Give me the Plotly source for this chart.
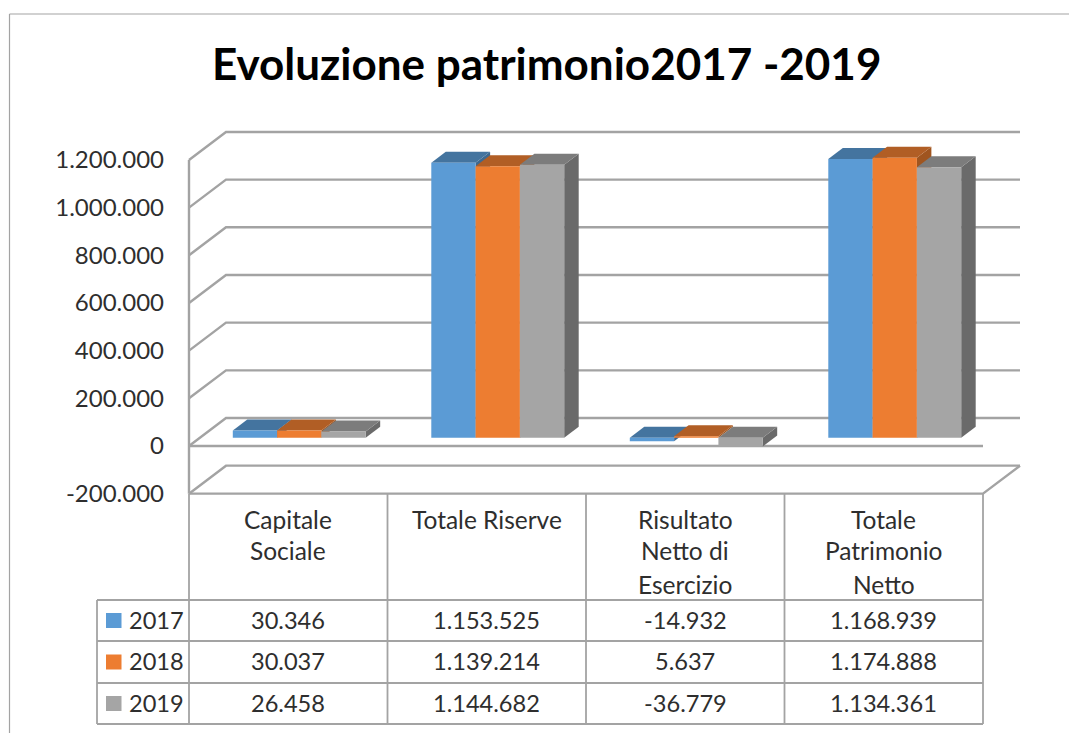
import plotly.graph_objects as go

# ---- data ----
TITLE = "Evoluzione patrimonio2017 -2019"
categories = ["Capitale<br>Sociale", "Totale Riserve", "Risultato<br>Netto di<br>Esercizio", "Totale<br>Patrimonio<br>Netto"]
years = ["2017", "2018", "2019"]
values_2017 = [30346, 1153525, -14932, 1168939]
values_2018 = [30037, 1139214, 5637, 1174888]
values_2019 = [26458, 1144682, -36779, 1134361]
labels_2017 = ["30.346", "1.153.525", "-14.932", "1.168.939"]
labels_2018 = ["30.037", "1.139.214", "5.637", "1.174.888"]
labels_2019 = ["26.458", "1.144.682", "-36.779", "1.134.361"]
tick_vals = [-200000, 0, 200000, 400000, 600000, 800000, 1000000, 1200000]
tick_text = ["-200.000", "0", "200.000", "400.000", "600.000", "800.000", "1.000.000", "1.200.000"]

# ---- styles ----
front_col = ["#5B9BD5", "#ED7D31", "#A5A5A5"]
top_col = ["#44749F", "#B15E25", "#7C7C7C"]
side_col = ["#3E6990", "#A0551F", "#6A6A6A"]
GRID = "#A3A3A3"
TXT = "#2E2E2E"
FONT = "Lato"

# ---- geometry (pixels of the page) ----
W, H = 1069, 733
X0, CAT_W = 189.0, 198.5         # front-left corner, category width
Y_ZERO, PX_PER_UNIT = 446.0, 47.67 / 200000
WALL_DX, WALL_DY = 37.0, 28.0    # depth of the whole floor
BAR_DX, BAR_DY = 14.5, 11.0      # depth of one bar
BAR_OFF_X, BAR_OFF_Y = 11.0, 8.3 # front of bars relative to front plane
BAR_W = 44.3


def ux(dpx):
    return dpx / CAT_W


def uy(dpx):
    return dpx / PX_PER_UNIT


xr = [ux(-X0), ux(W - X0)]
yr = [uy(Y_ZERO - H), uy(Y_ZERO)]


def px(x):
    return x / W


def py(y):
    return 1 - y / H


fig = go.Figure()


def poly(xs, ys, color):
    fig.add_trace(go.Scatter(x=xs, y=ys, mode="lines", fill="toself", fillcolor=color,
                             line=dict(width=0, color=color), hoverinfo="skip", showlegend=False))


def line(xs, ys, w=2.4):
    fig.add_trace(go.Scatter(x=xs, y=ys, mode="lines", line=dict(color=GRID, width=w),
                             hoverinfo="skip", showlegend=False))


wx, wy = ux(WALL_DX), uy(WALL_DY)
n_cat = len(categories)

# walls and gridlines
for v in tick_vals:
    line([0, wx, n_cat * 1.0 + wx], [v, v + wy, v + wy])
line([0, 0], [tick_vals[0], tick_vals[-1]])
line([0, n_cat], [0, 0])
line([0, n_cat, n_cat + wx], [tick_vals[0], tick_vals[0], tick_vals[0] + wy])

# 3D bars, back-to-front, left-to-right
bw, bdx, bdy = ux(BAR_W), ux(BAR_DX), uy(BAR_DY)
ox, oy = ux(BAR_OFF_X), uy(BAR_OFF_Y)
series = [values_2017, values_2018, values_2019]
for c in range(n_cat):
    for s, vals in enumerate(series):
        v = vals[c]
        x0 = c + 0.5 + ox + (s - 1.5) * bw
        x1 = x0 + bw
        top, bot = max(v, 0) + oy, min(v, 0) + oy
        poly([x1, x1 + bdx, x1 + bdx, x1, x1], [bot, bot + bdy, top + bdy, top, bot], side_col[s])
        poly([x0, x1, x1 + bdx, x0 + bdx, x0], [top, top, top + bdy, top + bdy, top], top_col[s])
        poly([x0, x1, x1, x0, x0], [bot, bot, top, top, bot], front_col[s])

# ---- table ----
shapes = []


def seg(x0, y0, x1, y1, w=1.8):
    shapes.append(dict(type="line", xref="paper", yref="paper", x0=px(x0), x1=px(x1),
                       y0=py(y0), y1=py(y1), line=dict(color=GRID, width=w)))


TAB_TOP, ROW_Y, TAB_L = 494, [600, 641, 683, 724], 97
cols = [X0 + i * CAT_W for i in range(n_cat + 1)]
for cx in cols:
    seg(cx, TAB_TOP, cx, ROW_Y[-1])
seg(TAB_L, ROW_Y[0], TAB_L, ROW_Y[-1])
for ry in ROW_Y:
    seg(TAB_L, ry, cols[-1], ry)

# outer chart frame
seg(9.5, 14, W, 14, 1.2)
seg(9.5, 14, 9.5, H, 1.2)

ann = []


def text(x, y, s, size=23.6, color=TXT, bold=False, anchor="center"):
    ann.append(dict(xref="paper", yref="paper", x=px(x), y=py(y), text=f"<b>{s}</b>" if bold else s,
                    showarrow=False, xanchor=anchor, yanchor="middle",
                    font=dict(family=FONT, size=size, color=color)))


text(546.5, 63, TITLE, size=44, color="#000000", bold=True)
line_y = [519, 550, 584]
for c, cat in enumerate(categories):
    for i, part in enumerate(cat.split("<br>")):
        text(cols[c] + CAT_W / 2, line_y[i], part, size=24.5)
rows = [labels_2017, labels_2018, labels_2019]
for r, (yr_name, labs) in enumerate(zip(years, rows)):
    cy = (ROW_Y[r] + ROW_Y[r + 1]) / 2
    text(127, cy - 1, yr_name, anchor="left")
    shapes.append(dict(type="rect", xref="paper", yref="paper", x0=px(106), x1=px(121.5),
                       y0=py(cy - 7.5), y1=py(cy + 7.5), fillcolor=front_col[r], line=dict(width=0)))
    for c, lab in enumerate(labs):
        text(cols[c] + CAT_W / 2, cy - 1, lab)

fig.update_layout(
    width=W, height=H, margin=dict(l=0, r=0, t=0, b=0), autosize=False,
    paper_bgcolor="white", plot_bgcolor="white", showlegend=False,
    shapes=shapes, annotations=ann,
    xaxis=dict(visible=False, range=xr, fixedrange=True, domain=[0, 1]),
    yaxis=dict(range=yr, fixedrange=True, domain=[0, 1], anchor="free", position=X0 / W,
               tickmode="array", tickvals=tick_vals, ticktext=tick_text, showgrid=False, zeroline=False,
               showline=False, ticks="", ticklabelstandoff=25,
               tickfont=dict(family=FONT, size=24, color=TXT)),
)
fig.write_html("out.html", post_script="document.body.style.margin='0';document.body.style.overflow='hidden';",
               config={"displayModeBar": False})
